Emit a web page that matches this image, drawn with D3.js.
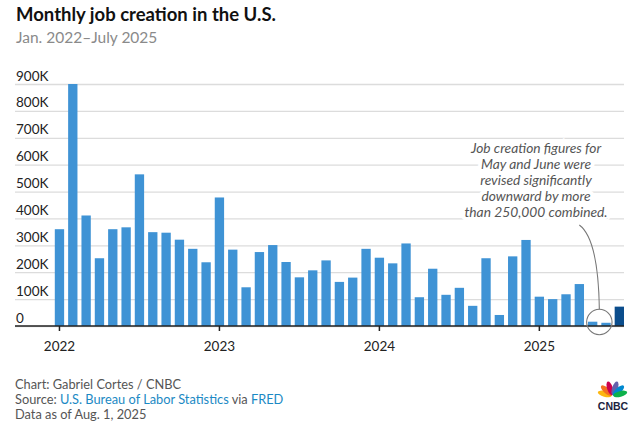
<!DOCTYPE html>
<html>
<head>
<meta charset="utf-8">
<script src="https://cdn.jsdelivr.net/npm/d3@7"></script>
<style>
  html, body { margin: 0; padding: 0; background: #fff; }
  svg { display: block; font-family: Lato, "Open Sans", sans-serif; }
</style>
</head>
<body>
<svg id="chart"></svg>
<script>
// monthly payroll change, thousands
var months = [
  "Jan 2022","Feb 2022","Mar 2022","Apr 2022","May 2022","Jun 2022","Jul 2022","Aug 2022","Sep 2022","Oct 2022","Nov 2022","Dec 2022",
  "Jan 2023","Feb 2023","Mar 2023","Apr 2023","May 2023","Jun 2023","Jul 2023","Aug 2023","Sep 2023","Oct 2023","Nov 2023","Dec 2023",
  "Jan 2024","Feb 2024","Mar 2024","Apr 2024","May 2024","Jun 2024","Jul 2024","Aug 2024","Sep 2024","Oct 2024","Nov 2024","Dec 2024",
  "Jan 2025","Feb 2025","Mar 2025","Apr 2025","May 2025","Jun 2025","Jul 2025"
];
var jobs = [
  360, 900, 411, 252, 360, 367, 564, 349, 347, 321, 287, 237,
  478, 284, 144, 275, 301, 238, 181, 207, 244, 164, 180, 287,
  254, 233, 307, 107, 213, 116, 142, 75, 252, 41, 259, 320,
  109, 100, 118, 156, 16, 12, 72
];
var yTicks = [0, 100, 200, 300, 400, 500, 600, 700, 800, 900];
var yearTicks = ["Jan 2022", "Jan 2023", "Jan 2024", "Jan 2025"];
var revisedMonths = ["May 2025", "Jun 2025"];
var noteLines = [
  "Job creation figures for",
  "May and June were",
  "revised significantly",
  "downward by more",
  "than 250,000 combined."
];

var width = 640, height = 429;
var left = 15, right = 624;
var blue = "#3f93d5", darkBlue = "#0b4d8c";

var svg = d3.select("#chart")
    .attr("width", width)
    .attr("height", height);

svg.append("rect").attr("width", width).attr("height", height).attr("fill", "#fff");

// title block
svg.append("text")
  .attr("x", 16).attr("y", 21)
  .attr("font-size", 18.5).attr("font-weight", 700).attr("fill", "#111")
  .text("Monthly job creation in the U.S.");
svg.append("text")
  .attr("x", 16).attr("y", 43)
  .attr("font-size", 15.5).attr("fill", "#8a8a8a")
  .text("Jan. 2022\u2013July 2025");

var x = d3.scaleBand()
    .domain(months)
    .range([52.8, 626])
    .paddingInner(0.3)
    .paddingOuter(0.15);

var y = d3.scaleLinear()
    .domain([0, 900])
    .range([326, 84]);

// gridlines + labels sitting on top of them
var yAxis = svg.append("g")
    .attr("transform", "translate(" + left + ",0)")
    .call(d3.axisRight(y)
      .tickValues(yTicks)
      .tickSize(right - left)
      .tickFormat(function(d) { return d === 0 ? "0" : d + "K"; }));
yAxis.select(".domain").remove();
yAxis.selectAll(".tick line").attr("stroke", "#dcdcdc").attr("stroke-width", 1.3);
yAxis.selectAll(".tick text")
  .attr("x", 1).attr("dy", -4)
  .attr("text-anchor", "start")
  .attr("font-family", "Lato, 'Open Sans', sans-serif")
  .attr("font-size", 13.5).attr("fill", "#222");

// bars
svg.append("g").selectAll("rect")
  .data(months)
  .join("rect")
    .attr("x", function(d) { return x(d); })
    .attr("width", x.bandwidth())
    .attr("y", function(d, i) { return y(jobs[i]); })
    .attr("height", function(d, i) { return y(0) - y(jobs[i]); })
    .attr("fill", function(d, i) { return i === months.length - 1 ? darkBlue : blue; });

// x axis
var xAxis = svg.append("g")
    .attr("transform", "translate(0," + y(0) + ")")
    .call(d3.axisBottom(x)
      .tickValues(yearTicks)
      .tickSize(5)
      .tickPadding(10.5)
      .tickFormat(function(d) { return d.slice(4); }));
xAxis.select(".domain").remove();
xAxis.selectAll(".tick line").attr("stroke", "#222").attr("stroke-width", 1.5);
xAxis.selectAll(".tick text")
  .attr("font-family", "Lato, 'Open Sans', sans-serif")
  .attr("font-size", 13.5).attr("fill", "#222");
svg.append("line")
  .attr("x1", left).attr("x2", right)
  .attr("y1", y(0)).attr("y2", y(0))
  .attr("stroke", "#222").attr("stroke-width", 1.5);

// annotation: circle round the revised months + curved leader
var cx = (x(revisedMonths[0]) + x(revisedMonths[1]) + x.bandwidth()) / 2;
var cy = y(0) - 4;
var r = 12.7;
svg.append("circle")
  .attr("cx", cx).attr("cy", cy).attr("r", r)
  .attr("fill", "none").attr("stroke", "#777").attr("stroke-width", 1.1);
var noteX = 536, noteY = 153, lineH = 16;
svg.append("path")
  .attr("d", "M" + (cx - 20) + "," + (noteY + lineH * 4 + 8) +
             " Q" + (cx - 1) + "," + (noteY + lineH * 4 + 22) + " " + cx + "," + (cy - r))
  .attr("fill", "none").attr("stroke", "#777").attr("stroke-width", 1.1);
svg.append("text")
  .attr("x", noteX).attr("y", noteY)
  .attr("text-anchor", "middle")
  .attr("font-size", 13.8).attr("font-style", "italic").attr("fill", "#555")
  .attr("stroke", "#fff").attr("stroke-width", 8).attr("paint-order", "stroke")
  .selectAll("tspan")
  .data(noteLines)
  .join("tspan")
    .attr("x", noteX)
    .attr("dy", function(d, i) { return i === 0 ? 0 : lineH; })
    .text(function(d) { return d; });

// footer
var footer = svg.append("g")
    .attr("font-size", 12.8).attr("fill", "#555");
footer.append("text").attr("x", 15).attr("y", 389).text("Chart: Gabriel Cortes / CNBC");
var src = footer.append("text").attr("x", 15).attr("y", 404);
src.append("tspan").text("Source: ");
src.append("tspan").attr("fill", "#1b89c4").text("U.S. Bureau of Labor Statistics");
src.append("tspan").text(" via ");
src.append("tspan").attr("fill", "#1b89c4").text("FRED");
footer.append("text").attr("x", 15).attr("y", 419).text("Data as of Aug. 1, 2025");

// CNBC peacock
var featherColors = ["#fcb711", "#f37021", "#cc004c", "#6460aa", "#0089d0", "#0db14b"];
var featherAngles = [-165, -138, -108, -72, -42, -15];
var logo = svg.append("g").attr("transform", "translate(612.5,396)");
logo.selectAll("ellipse")
  .data(featherColors)
  .join("ellipse")
    .attr("cx", 0).attr("cy", 0)
    .attr("rx", 7.2).attr("ry", 2.9)
    .attr("transform", function(d, i) {
      return "rotate(" + featherAngles[i] + ") translate(8,0)";
    })
    .attr("fill", function(d) { return d; });
svg.append("text")
  .attr("x", 613).attr("y", 410)
  .attr("text-anchor", "middle")
  .attr("font-family", "'Liberation Sans', Arial, sans-serif")
  .attr("font-weight", 700).attr("font-size", 10.5).attr("fill", "#1c2340")
  .text("CNBC");
</script>
</body>
</html>
